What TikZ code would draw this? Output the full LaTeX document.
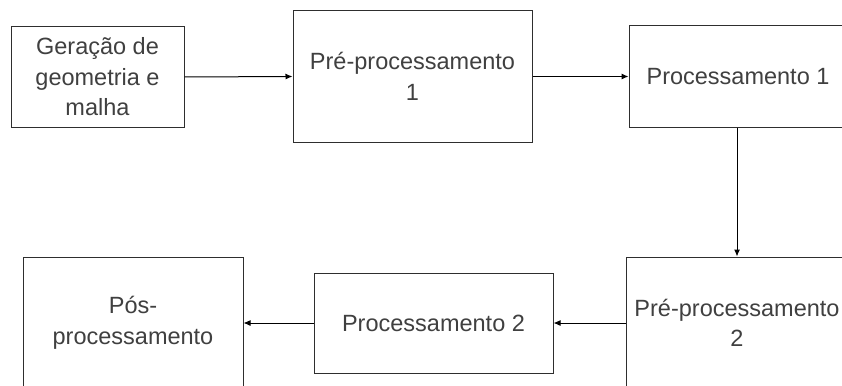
\documentclass[tikz,border=0pt]{standalone}
\usepackage{fontspec}
\setmainfont{Liberation Sans}
\usetikzlibrary{arrows.meta}
\definecolor{txt}{HTML}{404040}
\definecolor{edge}{HTML}{2E2E2E}
\begin{document}
\begin{tikzpicture}[x=1pt,y=-1pt,
  blockbox/.style={draw=edge, line width=1pt, fill=white, inner sep=0pt,
    align=center, text=txt, font=\fontsize{23.5}{30.5}\selectfont},
  flow/.style={draw=black, line width=1pt, -{Latex[length=7pt,width=6pt]}}]
\useasboundingbox (0,0) rectangle (842,385);
\clip (0,0) rectangle (842,385);
\fill[white] (0,0) rectangle (842,385);
% upper row
\node[blockbox, minimum width=173pt, minimum height=100pt] (geo) at (97.5,77) {Geração de\\geometria e\\malha};
\node[blockbox, minimum width=239pt, minimum height=131pt] (pre1) at (412.5,76.5) {Pré-processamento\\1};
\node[blockbox, minimum width=218pt, minimum height=101pt] (proc1) at (738,76.5) {Processamento 1};
% lower row
\node[blockbox, minimum width=222pt, minimum height=132pt] (pre2) at (737,323) {Pré-processamento\\2};
\node[blockbox, minimum width=239pt, minimum height=100pt] (proc2) at (433.5,323) {Processamento 2};
\node[blockbox, minimum width=220pt, minimum height=132pt] (pos) at (133,323) {Pós-\\processamento};
% connectors
\draw[flow] (geo.east) -- (pre1.west);
\draw[flow] (pre1.east) -- (proc1.west);
\draw[flow] (proc1.south -| pre2.north) -- (pre2.north);
\draw[flow] (pre2.west) -- (proc2.east);
\draw[flow] (proc2.west) -- (pos.east);
\end{tikzpicture}
\end{document}
